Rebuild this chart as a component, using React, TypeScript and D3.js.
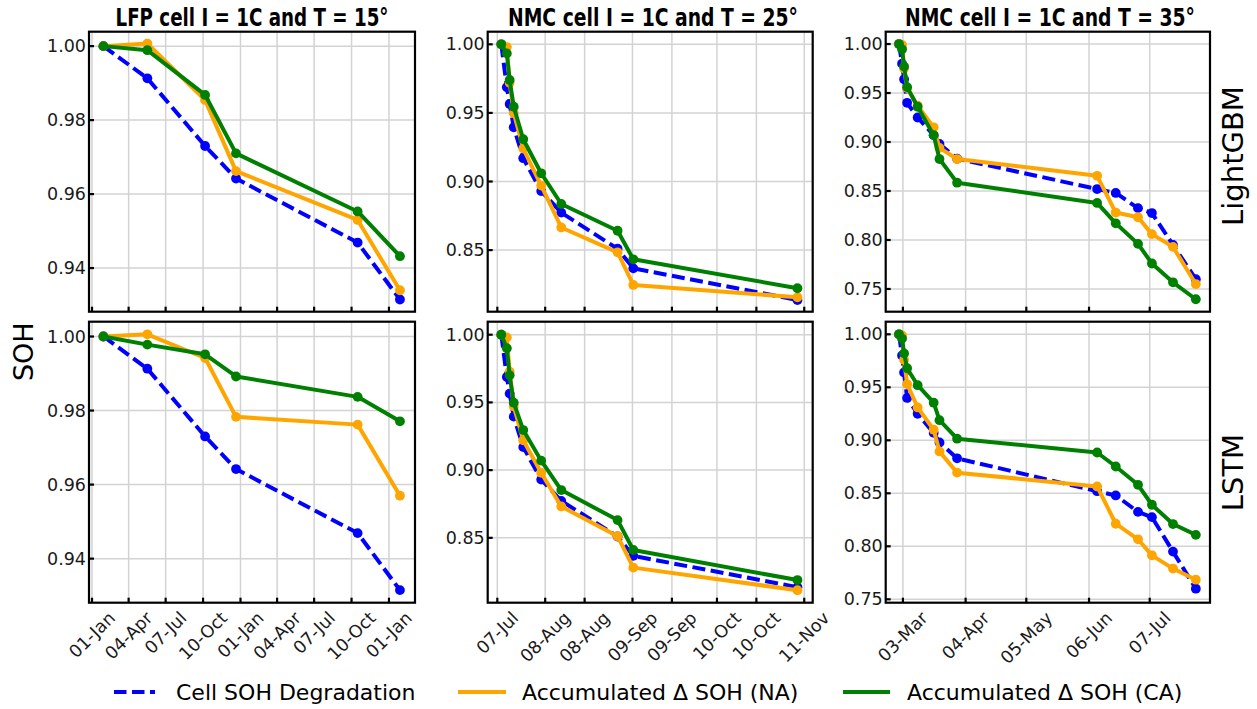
import React from "react";
import * as d3 from "d3";

const W = 1257;
const H = 709;

const BLUE = "#0000ff";
const ORANGE = "#ffa500";
const GREEN = "#008000";

// ---------------- Column 1 : LFP cell, 1C, 15°
const lfpDates = ["2018-01-29T00:00", "2018-05-17T00:00", "2018-10-06T00:00", "2018-12-21T00:00", "2019-10-16T00:00", "2020-01-28T00:00"];
const lfpActual = [1.0, 0.9913, 0.973, 0.9642, 0.9469, 0.9315];
const lfpLgbmNA = [1.0, 1.0007, 0.9854, 0.9662, 0.953, 0.934];
const lfpLgbmCA = [1.0, 0.9989, 0.9868, 0.971, 0.9553, 0.9432];
const lfpLstmNA = [1.0, 1.0006, 0.9942, 0.9783, 0.9762, 0.957];
const lfpLstmCA = [1.0, 0.9978, 0.9952, 0.9892, 0.9837, 0.9771];
const lfpXTicks = ["2018-01-01T00:00", "2018-04-01T00:00", "2018-07-01T00:00", "2018-10-01T00:00", "2019-01-01T00:00", "2019-04-01T00:00", "2019-07-01T00:00", "2019-10-01T00:00", "2020-01-01T00:00"];
const lfpXDomain = ["2017-12-24T14:00", "2020-03-05T00:00"];
const lfpYTicks = [0.94, 0.96, 0.98, 1.0];
const lfpLgbmYDomain = [0.9282, 1.0039];
const lfpLstmYDomain = [0.9281, 1.004];

// ---------------- Column 2 : NMC cell, 1C, 25°
const nmc25Dates = ["2021-07-16T10:00", "2021-07-18T09:00", "2021-07-19T09:00", "2021-07-20T20:00", "2021-07-24T05:00", "2021-07-30T14:00", "2021-08-06T17:00", "2021-08-26T17:00", "2021-09-01T07:00", "2021-10-29T14:00"];
const nmc25Actual = [1.0, 0.9687, 0.9565, 0.9395, 0.917, 0.893, 0.8773, 0.851, 0.8367, 0.8136];
const nmc25LgbmNA = [1.0, 0.998, 0.972, 0.95, 0.924, 0.897, 0.8665, 0.8484, 0.8246, 0.8156];
const nmc25LgbmCA = [1.0, 0.9934, 0.974, 0.9545, 0.9308, 0.906, 0.8836, 0.8641, 0.8433, 0.8222];
const nmc25LstmNA = [1.0, 0.998, 0.9727, 0.947, 0.922, 0.898, 0.8732, 0.8512, 0.828, 0.8113];
const nmc25LstmCA = [1.0, 0.99, 0.97, 0.9498, 0.9296, 0.907, 0.8853, 0.8631, 0.841, 0.8188];
const nmc25XTicks = ["2021-07-15T00:00", "2021-08-01T00:00", "2021-08-15T00:00", "2021-09-01T00:00", "2021-09-15T00:00", "2021-10-01T00:00", "2021-10-15T00:00", "2021-11-01T00:00"];
const nmc25XDomain = ["2021-07-11T14:00", "2021-11-04T00:00"];
const nmc25YTicks = [0.85, 0.9, 0.95, 1.0];
const nmc25LgbmYDomain = [0.8051, 1.0092];
const nmc25LstmYDomain = [0.8021, 1.0096];

// ---------------- Column 3 : NMC cell, 1C, 35°
const nmc35Dates = ["2021-02-27T02:00", "2021-02-28T14:00", "2021-03-01T14:00", "2021-03-03T02:00", "2021-03-08T07:00", "2021-03-16T05:00", "2021-03-19T02:00", "2021-03-27T19:00", "2021-06-05T00:00", "2021-06-14T05:00", "2021-06-25T05:00", "2021-07-02T02:00", "2021-07-12T12:00", "2021-07-23T19:00"];
const nmc35Actual = [1.0, 0.98, 0.964, 0.94, 0.925, 0.907, 0.898, 0.883, 0.852, 0.848, 0.8325, 0.8275, 0.795, 0.76];
const nmc35LgbmNA = [1.0, 0.999, 0.975, 0.955, 0.937, 0.915, 0.894, 0.8826, 0.8655, 0.828, 0.8232, 0.806, 0.793, 0.755];
const nmc35LgbmCA = [1.0, 0.9946, 0.977, 0.956, 0.936, 0.907, 0.8826, 0.8585, 0.8378, 0.817, 0.796, 0.776, 0.7568, 0.7395];
const nmc35LstmNA = [1.0, 0.999, 0.976, 0.953, 0.931, 0.91, 0.8895, 0.8695, 0.8565, 0.8213, 0.8066, 0.7915, 0.779, 0.7685];
const nmc35LstmCA = [1.0, 0.996, 0.982, 0.968, 0.952, 0.9355, 0.919, 0.9015, 0.8885, 0.8753, 0.858, 0.8392, 0.821, 0.8108];
const nmc35XTicks = ["2021-03-01T00:00", "2021-04-01T00:00", "2021-05-01T00:00", "2021-06-01T00:00", "2021-07-01T00:00"];
const nmc35XDomain = ["2021-02-20T12:00", "2021-07-30T19:00"];
const nmc35YTicks = [0.75, 0.8, 0.85, 0.9, 0.95, 1.0];
const nmc35LgbmYDomain = [0.7268, 1.0126];
const nmc35LstmYDomain = [0.7468, 1.0119];

const titles = ["LFP cell I = 1C and T = 15°", "NMC cell I = 1C and T = 25°", "NMC cell I = 1C and T = 35°"];
const rowLabels = ["LightGBM", "LSTM"];
const legendLabels = ["Cell SOH Degradation", "Accumulated \u0394 SOH (NA)", "Accumulated \u0394 SOH (CA)"];

const parse = (s: string) => new Date(s);
const fmtMonth = d3.timeFormat("%m-%b");
const fmtY = d3.format(".2f");

let measureCtx: CanvasRenderingContext2D | null = null;
function textWidth(s: string, font: string): number {
  if (!measureCtx) {
    const c = document.createElement("canvas");
    measureCtx = c.getContext("2d");
  }
  if (!measureCtx) return s.length * 10;
  measureCtx.font = font;
  return measureCtx.measureText(s).width;
}

const TICK_FONT = 17.5;
const FONT = "'DejaVu Sans', sans-serif";

type Series = { values: number[]; color: string; dash?: string };

function Panel(props: {
  left: number; right: number; top: number; bottom: number;
  xDomain: string[]; yDomain: number[]; xTicks: string[]; yTicks: number[];
  dates: string[]; series: Series[]; showXLabels: boolean;
}) {
  const { left, right, top, bottom, xDomain, yDomain, xTicks, yTicks, dates, series, showXLabels } = props;
  const x = d3.scaleTime().domain(xDomain.map(parse)).range([left, right]);
  const y = d3.scaleLinear().domain(yDomain).range([bottom, top]);
  const xs = dates.map(parse);
  const line = d3.line<number>().x((_, i) => x(xs[i])).y((d) => y(d));
  return (
    <g>
      {xTicks.map((t) => (
        <line key={"gx" + t} x1={x(parse(t))} x2={x(parse(t))} y1={top} y2={bottom} stroke="#d3d3d3" strokeWidth={1.5} />
      ))}
      {yTicks.map((t) => (
        <line key={"gy" + t} x1={left} x2={right} y1={y(t)} y2={y(t)} stroke="#d3d3d3" strokeWidth={1.5} />
      ))}
      {series.map((s, si) => (
        <g key={"s" + si}>
          <path d={line(s.values) || ""} fill="none" stroke={s.color} strokeWidth={4} strokeDasharray={s.dash} strokeLinejoin="round" />
          {s.values.map((v, i) => (
            <circle key={i} cx={x(xs[i])} cy={y(v)} r={4.9} fill={s.color} />
          ))}
        </g>
      ))}
      <rect x={left} y={top} width={right - left} height={bottom - top} fill="none" stroke="#000" strokeWidth={2.2} />
      {yTicks.map((t) => (
        <g key={"ty" + t}>
          <line x1={left} x2={left + 5} y1={y(t)} y2={y(t)} stroke="#000" strokeWidth={2.2} />
          <text x={left - 3} y={y(t)} textAnchor="end" dominantBaseline="central" fontFamily={FONT} fontSize={TICK_FONT} fill="#1a1a1a">
            {fmtY(t)}
          </text>
        </g>
      ))}
      {xTicks.map((t) => {
        const tx = x(parse(t));
        const label = fmtMonth(parse(t));
        const w = textWidth(label, `${TICK_FONT}px 'DejaVu Sans'`);
        const h = TICK_FONT * 1.164;
        const side = (w + h) * Math.SQRT1_2;
        const cy = bottom + 5 + side / 2;
        return (
          <g key={"tx" + t}>
            <line x1={tx} x2={tx} y1={bottom} y2={bottom - 5} stroke="#000" strokeWidth={2.2} />
            {showXLabels && (
              <text transform={`translate(${tx},${cy}) rotate(-45)`} textAnchor="middle" dominantBaseline="central" fontFamily={FONT} fontSize={TICK_FONT} fill="#1a1a1a">
                {label}
              </text>
            )}
          </g>
        );
      })}
    </g>
  );
}

export default function App() {
  const cols = [
    { left: 89, right: 415, xDomain: lfpXDomain, xTicks: lfpXTicks, yTicks: lfpYTicks, dates: lfpDates, actual: lfpActual,
      rows: [ { yDomain: lfpLgbmYDomain, na: lfpLgbmNA, ca: lfpLgbmCA }, { yDomain: lfpLstmYDomain, na: lfpLstmNA, ca: lfpLstmCA } ], titleW: 273 },
    { left: 487.7, right: 812.7, xDomain: nmc25XDomain, xTicks: nmc25XTicks, yTicks: nmc25YTicks, dates: nmc25Dates, actual: nmc25Actual,
      rows: [ { yDomain: nmc25LgbmYDomain, na: nmc25LgbmNA, ca: nmc25LgbmCA }, { yDomain: nmc25LstmYDomain, na: nmc25LstmNA, ca: nmc25LstmCA } ], titleW: 290 },
    { left: 885.7, right: 1210, xDomain: nmc35XDomain, xTicks: nmc35XTicks, yTicks: nmc35YTicks, dates: nmc35Dates, actual: nmc35Actual,
      rows: [ { yDomain: nmc35LgbmYDomain, na: nmc35LgbmNA, ca: nmc35LgbmCA }, { yDomain: nmc35LstmYDomain, na: nmc35LstmNA, ca: nmc35LstmCA } ], titleW: 290 },
  ];
  const rowsPos = [ { top: 31.7, bottom: 311.7 }, { top: 321.7, bottom: 602.7 } ];
  const titleCenters = [252, 653, 1050];
  const rowLabelY = [156, 472.5];
  const legendItems = [
    { x1: 114, x2: 155, tx: 176, color: BLUE, dash: "12.5 5.5" },
    { x1: 458, x2: 506, tx: 522, color: ORANGE },
    { x1: 843, x2: 890, tx: 907, color: GREEN },
  ];
  const legendY = 692;

  return (
    <svg width={W} height={H} style={{ position: "absolute", left: 0, top: 0, background: "#fff" }} xmlns="http://www.w3.org/2000/svg">
      <rect x={0} y={0} width={W} height={H} fill="#fff" />
      {cols.map((c, ci) => (
        <g key={"c" + ci}>
          {c.rows.map((r, ri) => (
            <Panel key={ri} left={c.left} right={c.right} top={rowsPos[ri].top} bottom={rowsPos[ri].bottom}
              xDomain={c.xDomain} yDomain={r.yDomain} xTicks={c.xTicks} yTicks={c.yTicks} dates={c.dates}
              showXLabels={ri === 1}
              series={[
                { values: c.actual, color: BLUE, dash: "13 5.5" },
                { values: r.na, color: ORANGE },
                { values: r.ca, color: GREEN },
              ]} />
          ))}
          <text x={titleCenters[ci]} y={25.5} textAnchor="middle" fontFamily="'Liberation Sans Narrow', 'DejaVu Sans Condensed', 'Liberation Sans', sans-serif"
            fontWeight="bold" fontSize={25} textLength={c.titleW} lengthAdjust="spacingAndGlyphs" fill="#000">
            {titles[ci]}
          </text>
        </g>
      ))}
      <text transform="translate(33,351.7) rotate(-90)" textAnchor="middle" fontFamily={FONT} fontSize={27} fill="#000">SOH</text>
      {rowLabels.map((l, i) => (
        <text key={l} transform={`translate(1243,${rowLabelY[i]}) rotate(-90)`} textAnchor="middle" fontFamily={FONT} fontSize={29} fill="#000">{l}</text>
      ))}
      {legendItems.map((it, i) => (
        <g key={"lg" + i}>
          <line x1={it.x1} x2={it.x2} y1={legendY} y2={legendY} stroke={it.color} strokeWidth={3.8} strokeDasharray={it.dash} />
          <text x={it.tx} y={legendY} dominantBaseline="central" fontFamily={FONT} fontSize={22} fill="#000">{legendLabels[i]}</text>
        </g>
      ))}
    </svg>
  );
}
